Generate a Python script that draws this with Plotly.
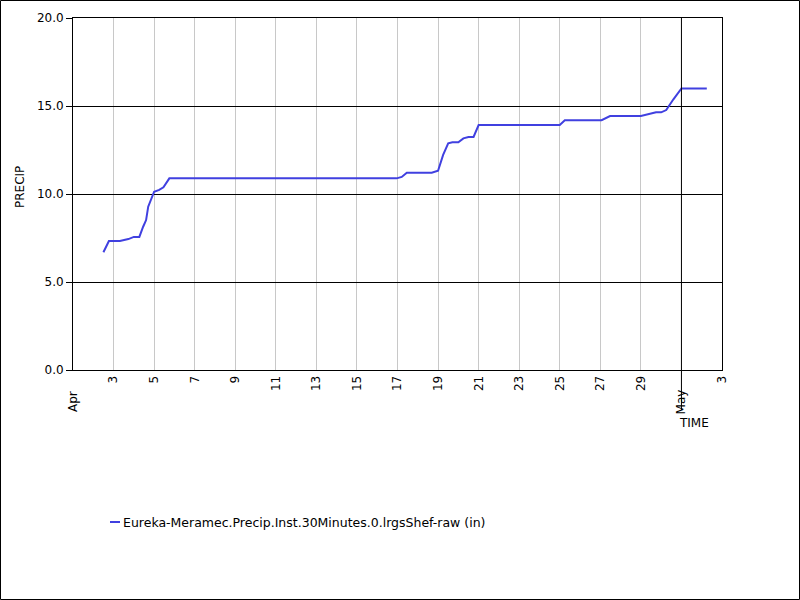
import plotly.graph_objects as go

# precip gauge readings
times = [
    "2021-04-02 12:00", "2021-04-02 18:30", "2021-04-03 07:30", "2021-04-03 17:30",
    "2021-04-04 00:00", "2021-04-04 06:30", "2021-04-04 11:00", "2021-04-04 14:30",
    "2021-04-04 17:00", "2021-04-04 20:00", "2021-04-05 00:00", "2021-04-05 06:00",
    "2021-04-05 11:00", "2021-04-05 18:00", "2021-04-16 23:00", "2021-04-17 05:00",
    "2021-04-17 11:00", "2021-04-18 16:30", "2021-04-19 00:00", "2021-04-19 06:00",
    "2021-04-19 12:00", "2021-04-19 17:00", "2021-04-20 00:00", "2021-04-20 06:00",
    "2021-04-20 12:00", "2021-04-20 18:00", "2021-04-21 00:00", "2021-04-25 00:00",
    "2021-04-25 06:00", "2021-04-27 01:30", "2021-04-27 11:30", "2021-04-29 00:00",
    "2021-04-29 10:00", "2021-04-29 18:00", "2021-04-30 00:00", "2021-04-30 06:00",
    "2021-04-30 14:30", "2021-05-01 00:00", "2021-05-02 06:00",
]
precip = [
    6.69, 7.33, 7.33, 7.44,
    7.56, 7.56, 8.14, 8.52,
    9.28, 9.66, 10.13, 10.23,
    10.38, 10.89, 10.89, 10.97,
    11.21, 11.21, 11.32, 12.22,
    12.88, 12.94, 12.94, 13.16,
    13.24, 13.24, 13.92, 13.92,
    14.19, 14.19, 14.43, 14.43,
    14.53, 14.64, 14.64, 14.77,
    15.38, 16.0, 16.0,
]

series_name = "Eureka-Meramec.Precip.Inst.30Minutes.0.lrgsShef-raw (in)"

tick_dates = ["2021-04-%02d" % d for d in range(3, 30, 2)] + ["2021-05-03"]
tick_labels = [str(d) for d in range(3, 30, 2)] + ["3"]
month_dates = ["2021-04-01", "2021-05-01"]
month_labels = ["Apr", "May"]

line_color = "#4040e0"

fig = go.Figure(go.Scatter(x=times, y=precip, mode="lines", name=series_name,
                           line=dict(color=line_color, width=2)))

# pixel -> paper helpers (plot area 73..722 x 18..370)
def px(x):
    return (x - 73) / 649.0

def py(y):
    return (370 - y) / 352.0

annotations = []
for d, lab in zip(month_dates, month_labels):
    annotations.append(dict(x=d, xref="x", y=py(402), yref="paper", text=lab,
                            textangle=-90, showarrow=False,
                            xanchor="center", yanchor="middle"))
annotations.append(dict(x="2021-05-01", xref="x", y=py(423), yref="paper", text="TIME",
                        showarrow=False, xanchor="left", yanchor="middle", xshift=-4))
annotations.append(dict(x=px(20), xref="paper", y=py(187), yref="paper", text="PRECIP",
                        textangle=-90, showarrow=False, xanchor="center", yanchor="middle"))
annotations.append(dict(x=px(121), xref="paper", y=py(522), yref="paper", text=series_name,
                        showarrow=False, xanchor="left", yanchor="middle",
                        font=dict(size=12.5)))

shapes = [
    # long tick at month boundary
    dict(type="line", xref="x", x0="2021-05-01", x1="2021-05-01",
         yref="paper", y0=py(410), y1=1, line=dict(color="black", width=1)),
    # legend sample
    dict(type="line", xref="paper", x0=px(110), x1=px(120),
         yref="paper", y0=py(522), y1=py(522), line=dict(color=line_color, width=2)),
    # outer frame
    dict(type="rect", xref="paper", x0=px(0.5), x1=px(799.5),
         yref="paper", y0=py(599.5), y1=py(0.5), line=dict(color="black", width=1)),
]

fig.update_layout(
    width=800, height=600,
    margin=dict(l=73, r=78, t=18, b=230),
    paper_bgcolor="white", plot_bgcolor="white",
    font=dict(family="DejaVu Sans", size=12, color="black"),
    showlegend=False,
    annotations=annotations,
    shapes=shapes,
)
fig.update_xaxes(
    type="date", range=["2021-04-01", "2021-05-03"],
    tickvals=tick_dates, ticktext=tick_labels, tickangle=-90,
    showgrid=True, gridcolor="#c8c8c8", gridwidth=1,
    showline=True, linecolor="black", linewidth=1, mirror=True,
    ticks="", zeroline=False,
)
fig.update_yaxes(
    range=[0, 20], tickvals=[0, 5, 10, 15, 20], tickformat=".1f",
    showgrid=True, gridcolor="black", gridwidth=1,
    showline=True, linecolor="black", linewidth=1, mirror=True,
    ticks="outside", ticklen=6, tickcolor="black", zeroline=False,
)

# drop the page's default body margin so the figure sits at the window origin
fig.write_html("out.html", config={"displayModeBar": False},
               post_script="document.body.style.margin='0';")
